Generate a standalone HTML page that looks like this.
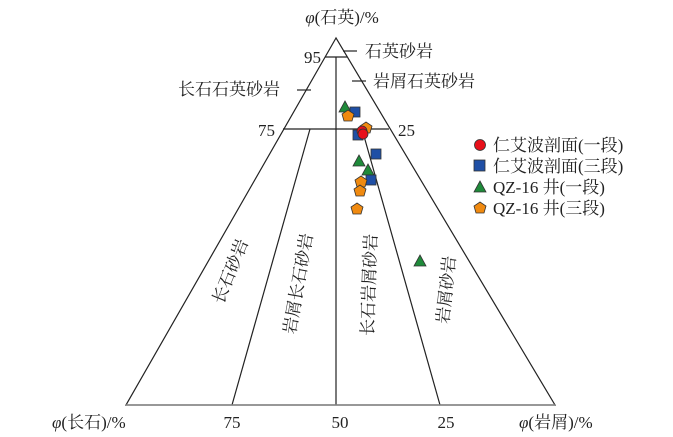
<!DOCTYPE html>
<html><head><meta charset="utf-8"><style>
html,body{margin:0;padding:0;background:#fff;}
svg{display:block;}
text{font-family:"Liberation Serif","Noto Serif CJK SC",serif;font-size:17px;fill:#222;}
</style></head><body>
<svg width="673" height="437" viewBox="0 0 673 437" xmlns="http://www.w3.org/2000/svg">
<g stroke="#222" stroke-width="1.2" fill="none">
<polygon points="336,38 126,405 555,405"/>
<line x1="336" y1="57" x2="336" y2="405"/>
<line x1="325" y1="57" x2="347" y2="57"/>
<line x1="283" y1="129" x2="389" y2="129"/>
<line x1="310" y1="129" x2="232" y2="405"/>
<line x1="362" y1="129" x2="440" y2="405"/>
<line x1="343" y1="51" x2="357" y2="51"/>
<line x1="352" y1="81" x2="366" y2="81"/>
<line x1="297" y1="90" x2="311" y2="90"/>
</g>
<line x1="126" y1="405" x2="555" y2="405" stroke="#888" stroke-width="1.5"/>
<text x="342" y="23" text-anchor="middle"><tspan font-style="italic">φ</tspan>(石英)/%</text>
<text x="304" y="63">95</text>
<text x="365" y="57">石英砂岩</text>
<text x="373" y="87">岩屑石英砂岩</text>
<text x="178" y="95">长石石英砂岩</text>
<text x="258" y="136">75</text>
<text x="398" y="136">25</text>
<text x="52" y="428"><tspan font-style="italic">φ</tspan>(长石)/%</text>
<text x="232" y="428" text-anchor="middle">75</text>
<text x="340" y="428" text-anchor="middle">50</text>
<text x="446" y="428" text-anchor="middle">25</text>
<text x="519" y="428"><tspan font-style="italic">φ</tspan>(岩屑)/%</text>
<text transform="translate(232,272) rotate(-68)" text-anchor="middle" dominant-baseline="middle">长石砂岩</text>
<text transform="translate(300,284) rotate(-80)" text-anchor="middle" dominant-baseline="middle">岩屑长石砂岩</text>
<text transform="translate(371,285) rotate(-88)" text-anchor="middle" dominant-baseline="middle">长石岩屑砂岩</text>
<text transform="translate(448,290) rotate(-84)" text-anchor="middle" dominant-baseline="middle">岩屑砂岩</text>
<g stroke="#333" stroke-width="0.8">
<polygon points="345,101 351,112 339,112" fill="#1f8a3a"/>
<rect x="350" y="107" width="10" height="10" fill="#1f4fa5"/>
<polygon points="348,110 354,114 352,121 344,121 342,114" fill="#f08a10"/>
<polygon points="366,122 372,126 370,133 362,133 360,126" fill="#f08a10"/>
<rect x="353" y="130" width="10" height="10" fill="#1f4fa5"/>
<circle cx="362" cy="131" r="5" fill="#e8101a"/>
<circle cx="363" cy="134" r="5" fill="#e8101a"/>
<rect x="371" y="149" width="10" height="10" fill="#1f4fa5"/>
<polygon points="359,155 365,166 353,166" fill="#1f8a3a"/>
<polygon points="368,164 374,175 362,175" fill="#1f8a3a"/>
<rect x="366" y="175" width="10" height="10" fill="#1f4fa5"/>
<polygon points="361,176 367,180 365,187 357,187 355,180" fill="#f08a10"/>
<polygon points="360,185 366,189 364,196 356,196 354,189" fill="#f08a10"/>
<polygon points="357,203 363,207 361,214 353,214 351,207" fill="#f08a10"/>
<polygon points="420,255 426,266 414,266" fill="#1f8a3a"/>
<circle cx="480" cy="145" r="5.5" fill="#e8101a"/>
<rect x="474" y="160" width="11" height="11" fill="#1f4fa5"/>
<polygon points="480,181 486,192 474,192" fill="#1f8a3a"/>
<polygon points="480,202 486,206 484,213 476,213 474,206" fill="#f08a10"/>
</g>
<g style="font-size:16px">
<text x="493" y="151">仁艾波剖面(一段)</text>
<text x="493" y="172">仁艾波剖面(三段)</text>
<text x="493" y="193">QZ-16 井(一段)</text>
<text x="493" y="214">QZ-16 井(三段)</text>
</g>
</svg>
</body></html>
